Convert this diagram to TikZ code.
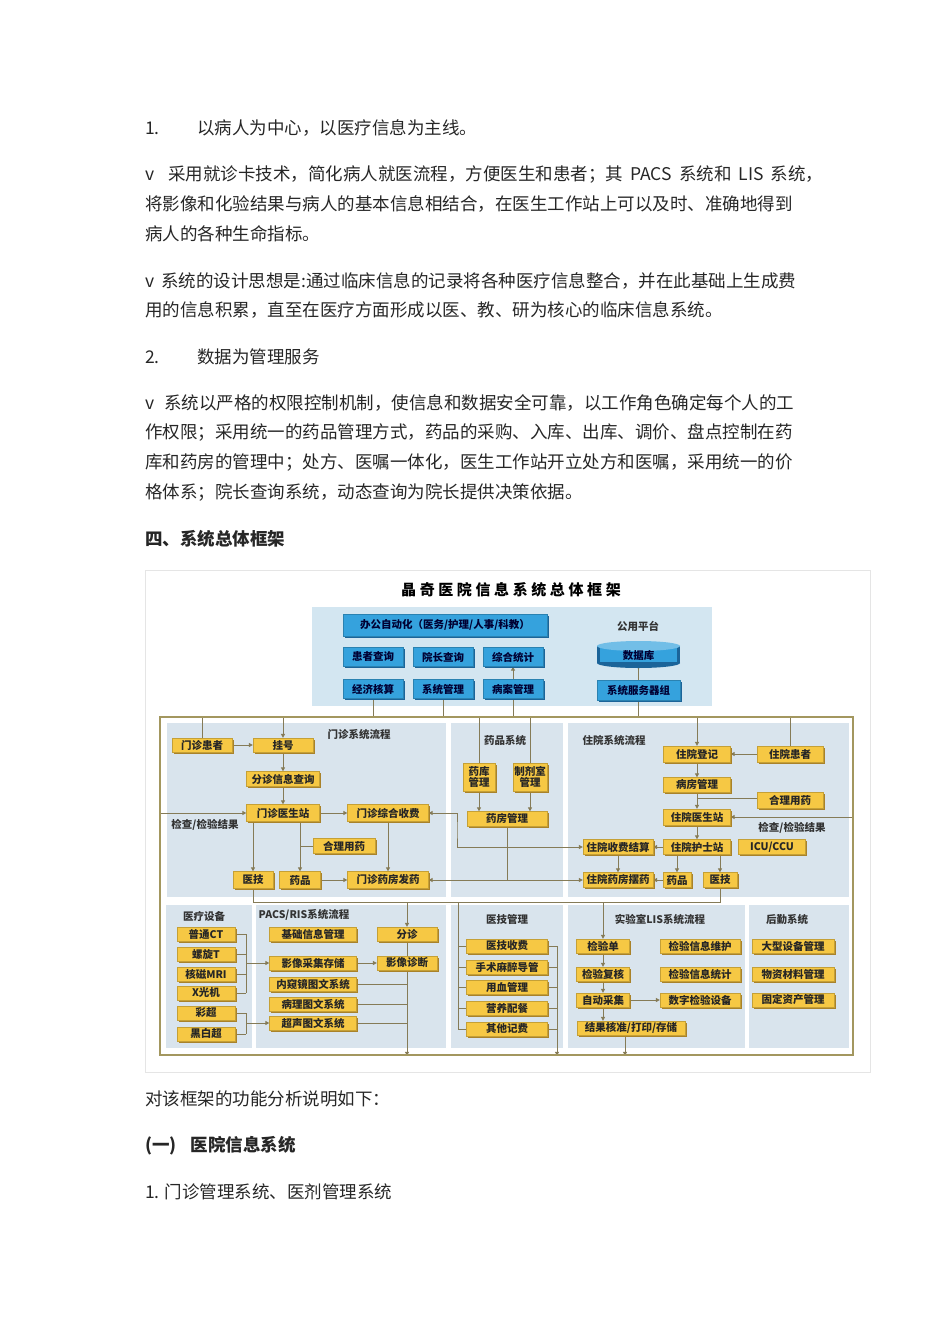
\documentclass[tikz,border=0pt]{standalone}
\usepackage{fontspec}
\setmainfont{Noto Sans CJK SC}
\newfontfamily\titlefont{Noto Sans CJK SC}[LetterSpace=24]
\usetikzlibrary{positioning,arrows.meta,shadows}
\XeTeXlinebreaklocale "zh"
\XeTeXlinebreakskip=0pt plus 1pt

\definecolor{panelbg}{HTML}{D9E4ED}
\definecolor{toppanel}{HTML}{D3E6F1}
\definecolor{framecol}{HTML}{A3975F}
\definecolor{yfill}{HTML}{F6C844}
\definecolor{yshade}{HTML}{A9822A}
\definecolor{bfill}{HTML}{35A2DD}
\definecolor{bshade}{HTML}{1B6499}
\definecolor{linecol}{HTML}{857B57}
\definecolor{txt}{HTML}{262626}

\newcommand\dfont{\fontsize{10.5}{11}\selectfont\bfseries}

\pgfdeclarelayer{panels}
\pgfdeclarelayer{lines}
\pgfsetlayers{panels,lines,main}

\tikzset{
  >={Triangle[length=4pt,width=4pt]},
  bodytext/.style={anchor=west, inner sep=0pt, text=txt, font=\fontsize{17.5}{21}\selectfont},
  headtext/.style={bodytext, font=\fontsize{17.5}{21}\selectfont\bfseries},
  ybox/.style={fill=yfill, draw=yfill!80!black, line width=0.3pt, inner sep=0pt, align=center,
    minimum height=15pt, font=\dfont, text=black!85,
    drop shadow={shadow xshift=1.6pt, shadow yshift=-1.6pt, fill=yshade, opacity=1}},
  bbox/.style={fill=bfill, draw=bfill!80!black, line width=0.3pt, inner sep=0pt,
    minimum height=19pt, font=\dfont, text=black!80!blue,
    drop shadow={shadow xshift=1.8pt, shadow yshift=-1.8pt, fill=bshade, opacity=1}},
  paneltitle/.style={inner sep=0pt, font=\dfont, text=black!80},
  conn/.style={draw=linecol, line width=1pt},
}

\begin{document}
\begin{tikzpicture}[x=1pt,y=-1pt]
\useasboundingbox (0,0) rectangle (950,1344);

% text above the figure
\node[bodytext] (n1) at (145,128) {1.};
\node[bodytext] (p1) at (197,128) {以病人为中心，以医疗信息为主线。};
\node[bodytext] (p2) at (145,175) {\makebox[678pt][s]{v\hspace{14pt}采用就诊卡技术，简化病人就医流程，方便医生和患者；其 PACS 系统和 LIS 系统，}};
\node[bodytext] (p3) at (145,204) {\makebox[650pt][s]{将影像和化验结果与病人的基本信息相结合，在医生工作站上可以及时、准确地得到}};
\node[bodytext] (p4) at (145,234) {病人的各种生命指标。};
\node[bodytext] (p5) at (145,281) {\makebox[651pt][s]{v 系统的设计思想是:通过临床信息的记录将各种医疗信息整合，并在此基础上生成费}};
\node[bodytext] (p6) at (145,310) {用的信息积累，直至在医疗方面形成以医、教、研为核心的临床信息系统。};
\node[bodytext] (n2) at (145,357) {2.};
\node[bodytext] (p7) at (197,357) {数据为管理服务};
\node[bodytext] (p8) at (145,403) {\makebox[650pt][s]{v\hspace{10pt}系统以严格的权限控制机制，使信息和数据安全可靠，以工作角色确定每个人的工}};
\node[bodytext] (p9) at (145,432) {\makebox[650pt][s]{作权限；采用统一的药品管理方式，药品的采购、入库、出库、调价、盘点控制在药}};
\node[bodytext] (p10) at (145,462) {\makebox[650pt][s]{库和药房的管理中；处方、医嘱一体化，医生工作站开立处方和医嘱，采用统一的价}};
\node[bodytext] (p11) at (145,492) {格体系；院长查询系统，动态查询为院长提供决策依据。};
\node[headtext] (h4) at (145,539) {四、系统总体框架};

% panels
\begin{pgfonlayer}{panels}
  \draw[gray!20, line width=0.6pt] (145,570) rectangle (870,1072);
  \fill[toppanel] (312,607) rectangle (712,706);
  \fill[panelbg] (167,723) rectangle (446,897);
  \fill[panelbg] (451,723) rectangle (563,897);
  \fill[panelbg] (568,723) rectangle (849,897);
  \fill[panelbg] (166,905) rectangle (252,1048);
  \fill[panelbg] (256,905) rectangle (446,1048);
  \fill[panelbg] (451,905) rectangle (563,1048);
  \fill[panelbg] (568,905) rectangle (745,1048);
  \fill[panelbg] (749,905) rectangle (849,1048);
\end{pgfonlayer}

\node[inner sep=0pt, font=\titlefont\fontsize{15}{17}\selectfont\bfseries] (title) at (511,590) {晶奇医院信息系统总体框架};

% top block
\node[bbox, minimum width=204pt, minimum height=22pt] (oa) at (445,625) {办公自动化（医务/护理/人事/科教）};
\node[bbox, minimum width=60pt] (hzcx) at (373,657) {患者查询};
\node[bbox, minimum width=60pt] (yzcx) at (443,657) {院长查询};
\node[bbox, minimum width=60pt] (zhtj) at (513,657) {综合统计};
\node[bbox, minimum width=60pt] (jjhs) at (373,689) {经济核算};
\node[bbox, minimum width=60pt] (xtgl) at (443,689) {系统管理};
\node[bbox, minimum width=60pt] (bagl) at (513,689) {病案管理};
\node[paneltitle] (gypt) at (638,626) {公用平台};
\fill[bshade] (597,646) rectangle (680,663);
\fill[bshade] (638.5,663) ellipse (41.5pt and 5pt);
\fill[bfill] (600,646) rectangle (677,662);
\fill[bfill!70!white] (638.5,646) ellipse (41.5pt and 5pt);
\node[inner sep=0pt, minimum width=83pt, minimum height=26pt, font=\dfont, text=black!80!blue] (sjk) at (638.5,655) {数据库};
\node[bbox, minimum width=83pt, minimum height=20pt] (fwq) at (638.5,690) {系统服务器组};

% frame
\node[draw=framecol, line width=1.6pt, minimum width=693pt, minimum height=338pt, inner sep=0pt] (frame) at (506.5,886) {};

% outpatient
\node[paneltitle] (tmz) at (359,734) {门诊系统流程};
\node[ybox, minimum width=60pt, minimum height=14pt] (mzhz) at (202,745) {门诊患者};
\node[ybox, minimum width=60pt, minimum height=14pt] (gh) at (283,745) {挂号};
\node[ybox, minimum width=73pt] (fzcx) at (283,779) {分诊信息查询};
\node[ybox, minimum width=73pt, minimum height=17pt] (mzys) at (283,813) {门诊医生站};
\node[ybox, minimum width=81pt, minimum height=17pt] (mzsf) at (388,813) {门诊综合收费};
\node[paneltitle] (tjc1) at (205,825) {检查/检验结果};
\node[ybox, minimum width=62pt] (hlyy) at (344,846) {合理用药};
\node[ybox, minimum width=40pt, minimum height=17pt] (mzyj) at (253,880) {医技};
\node[ybox, minimum width=41pt, minimum height=17pt] (mzyp) at (300,880) {药品};
\node[ybox, minimum width=81pt, minimum height=17pt] (mzfy) at (388,880) {门诊药房发药};

% drugs
\node[paneltitle] (typ) at (505,740) {药品系统};
\node[ybox, minimum width=32pt, minimum height=28pt] (ykgl) at (479,777) {药库\\管理};
\node[ybox, minimum width=34pt, minimum height=28pt] (zjsgl) at (530,777) {制剂室\\管理};
\node[ybox, minimum width=80pt] (yfgl) at (507,819) {药房管理};

% inpatient
\node[paneltitle] (tzy) at (614,740) {住院系统流程};
\node[ybox, minimum width=67pt, minimum height=16pt] (zydj) at (697,754) {住院登记};
\node[ybox, minimum width=66pt, minimum height=16pt] (zyhz) at (790,754) {住院患者};
\node[ybox, minimum width=67pt] (bfgl) at (697,785) {病房管理};
\node[ybox, minimum width=66pt, minimum height=16pt] (zyhl) at (790,800) {合理用药};
\node[ybox, minimum width=67pt, minimum height=16pt] (zyys) at (697,817) {住院医生站};
\node[paneltitle] (tjc2) at (792,828) {检查/检验结果};
\node[ybox, minimum width=67pt] (zyhs) at (697,847) {住院护士站};
\node[ybox, minimum width=67pt] (icu) at (772,847) {ICU/CCU};
\node[ybox, minimum width=70pt] (zysf) at (618,847) {住院收费结算};
\node[ybox, minimum width=70pt] (zyby) at (618,880) {住院药房摆药};
\node[ybox, minimum width=28pt] (zyyp) at (677,880) {药品};
\node[ybox, minimum width=34pt] (zyyj) at (720,880) {医技};

% equipment
\node[paneltitle] (tylsb) at (204,916) {医疗设备};
\node[ybox, minimum width=58pt, minimum height=14pt] (ptct) at (206,934) {普通CT};
\node[ybox, minimum width=58pt, minimum height=14pt] (lxt) at (206,954) {螺旋T};
\node[ybox, minimum width=58pt, minimum height=14pt] (hcgz) at (206,974) {核磁MRI};
\node[ybox, minimum width=58pt, minimum height=14pt] (xgj) at (206,993) {X光机};
\node[ybox, minimum width=58pt, minimum height=14pt] (cc) at (206,1013) {彩超};
\node[ybox, minimum width=58pt, minimum height=14pt] (hbc) at (206,1034) {黑白超};

% PACS/RIS
\node[paneltitle] (tpacs) at (304,915) {PACS/RIS系统流程};
\node[ybox, minimum width=87pt, minimum height=14pt] (jcxx) at (313,934) {基础信息管理};
\node[ybox, minimum width=87pt, minimum height=14pt] (yxcj) at (313,963) {影像采集存储};
\node[ybox, minimum width=87pt, minimum height=14pt] (nkj) at (313,984) {内窥镜图文系统};
\node[ybox, minimum width=87pt, minimum height=14pt] (blt) at (313,1004) {病理图文系统};
\node[ybox, minimum width=87pt, minimum height=14pt] (csw) at (313,1023) {超声图文系统};
\node[ybox, minimum width=60pt, minimum height=14pt] (fz) at (407,934) {分诊};
\node[ybox, minimum width=60pt, minimum height=14pt] (yxzd) at (407,963) {影像诊断};

% medical technology
\node[paneltitle] (tyjgl) at (507,919) {医技管理};
\node[ybox, minimum width=81pt, minimum height=14pt] (yjsf) at (507,946) {医技收费};
\node[ybox, minimum width=81pt, minimum height=14pt] (ssmz) at (507,967) {手术麻醉导管};
\node[ybox, minimum width=81pt, minimum height=14pt] (yxgl) at (507,987) {用血管理};
\node[ybox, minimum width=81pt, minimum height=14pt] (yypc) at (507,1008) {营养配餐};
\node[ybox, minimum width=81pt, minimum height=14pt] (qtjf) at (507,1029) {其他记费};

% LIS
\node[paneltitle] (tlis) at (660,919) {实验室LIS系统流程};
\node[ybox, minimum width=53pt, minimum height=14pt] (jyd) at (603,946) {检验单};
\node[ybox, minimum width=53pt, minimum height=14pt] (jyfh) at (603,974) {检验复核};
\node[ybox, minimum width=53pt, minimum height=14pt] (zdcj) at (603,1000) {自动采集};
\node[ybox, minimum width=108pt, minimum height=14pt] (jgzc) at (631,1028) {结果核准/打印/存储};
\node[ybox, minimum width=80pt, minimum height=14pt] (jywh) at (700,946) {检验信息维护};
\node[ybox, minimum width=80pt, minimum height=14pt] (jytj) at (700,974) {检验信息统计};
\node[ybox, minimum width=80pt, minimum height=14pt] (szsb) at (700,1000) {数字检验设备};

% logistics
\node[paneltitle] (thq) at (787,919) {后勤系统};
\node[ybox, minimum width=82pt, minimum height=14pt] (dxsb) at (793,946) {大型设备管理};
\node[ybox, minimum width=82pt, minimum height=14pt] (wzcl) at (793,974) {物资材料管理};
\node[ybox, minimum width=82pt, minimum height=14pt] (gdzc) at (793,1000) {固定资产管理};

% text below the figure
\node[bodytext] (p12) at (145,1099) {对该框架的功能分析说明如下：};
\node[headtext] (h1) at (145,1146) {(一)\hspace{14pt}医院信息系统};
\node[bodytext] (p13) at (145,1192) {1. 门诊管理系统、医剂管理系统};

% connectors
\coordinate (busL) at (253,902);
\coordinate (busR) at (720,902);
\coordinate (sfbus) at (457,830);
\coordinate (yjtop) at (458,902);
\coordinate (yjR) at (557,946);
\coordinate (brk) at (246,963);
\begin{pgfonlayer}{lines}
  % top block
  \foreach \n in {jjhs,xtgl,bagl,fwq}
    \draw[conn] (\n.south) -- (\n.south |- frame.north);
  \draw[conn, ->] (bagl) -- (zhtj);
  \draw[conn] (sjk) -- (fwq);
  % outpatient
  \draw[conn] (mzhz) -- (mzhz |- frame.north);
  \draw[conn, ->] (gh |- frame.north) -- (gh);
  \draw[conn, ->] (mzhz) -- (gh);
  \draw[conn, ->] (gh) -- (fzcx);
  \draw[conn, ->] (fzcx) -- (mzys);
  \draw[conn, ->] (frame.west |- mzys) -- (mzys);
  \draw[conn, ->] (mzys) -- (mzsf);
  \draw[conn, ->] (mzys.south -| mzyj) -- (mzyj);
  \draw[conn, ->] (mzys.south -| mzyp) -- (mzyp);
  \draw[conn] (hlyy.west) -- (hlyy.west -| mzyp);
  \draw[conn, ->] (mzsf) -- (mzfy);
  \draw[conn, ->] (mzyp) -- (mzfy);
  \draw[conn, <->] (mzsf.east) -| (sfbus) |- (zysf.west);
  \draw[conn, <->] (mzfy.east) -- (zyby.west);
  % drugs
  \foreach \n in {ykgl,zjsgl} {
    \draw[conn] (\n) -- (\n |- frame.north);
    \draw[conn, ->] (\n.south) -- (\n.south |- yfgl.north);
  }
  \draw[conn] (yfgl) -- (yfgl |- mzfy);
  % inpatient
  \draw[conn, ->] (zydj |- frame.north) -- (zydj);
  \draw[conn] (zyhz) -- (zyhz |- frame.north);
  \draw[conn, ->] (zyhz) -- (zydj);
  \draw[conn, ->] (zydj) -- (bfgl);
  \draw[conn, ->] (bfgl) -- (zyys);
  \draw[conn] ([yshift=2pt]zyhl.west) -- ([yshift=2pt]zyhl.west -| zyys);
  \draw[conn, ->] (frame.east |- zyys) -- (zyys);
  \draw[conn, ->] (zyys) -- (zyhs);
  \draw[conn, ->] (zyhs) -- (zysf);
  \draw[conn, ->] (zysf) -- (zyby);
  \draw[conn, ->] (zyhs.south -| zyyp) -- (zyyp);
  \draw[conn, ->] (zyhs.south -| zyyj) -- (zyyj);
  \draw[conn, ->] (zyyp) -- (zyby);
  % bus between the two rows
  \draw[conn] (mzyj) -- (busL) -- (busR) -- (zyyj);
  \draw[conn, ->] (fz |- busL) -- (fz);
  \draw[conn, ->] (jyd |- busL) -- (jyd);
  % equipment and PACS
  \foreach \n in {ptct,lxt,hcgz,xgj,cc,hbc}
    \draw[conn] (\n.east) -- (\n.east -| brk);
  \draw[conn] (ptct.east -| brk) -- (xgj.east -| brk);
  \draw[conn] (cc.east -| brk) -- (hbc.east -| brk);
  \draw[conn, ->] (brk |- yxcj) -- (yxcj);
  \draw[conn, ->] (brk |- csw) -- (csw);
  \draw[conn, ->] (yxcj) -- (yxzd);
  \draw[conn] (fz) -- (yxzd);
  \foreach \n in {nkj,blt,csw}
    \draw[conn] (\n.east) -- (\n.east -| yxzd);
  \draw[conn, ->] (yxzd) -- (yxzd |- frame.south);
  % medical technology
  \draw[conn] (yjtop) -- (yjtop |- qtjf);
  \foreach \n in {yjsf,ssmz,yxgl,yypc,qtjf} {
    \draw[conn] (\n.west) -- (\n.west -| yjtop);
    \draw[conn] (\n.east) -- (\n.east -| yjR);
  }
  \draw[conn, ->] (yjR) -- (yjR |- frame.south);
  % LIS
  \draw[conn, ->] (jyd) -- (jyfh);
  \draw[conn, ->] (jyfh) -- (zdcj);
  \draw[conn, ->] (zdcj) -- (zdcj |- jgzc.north);
  \draw[conn, ->] (zdcj) -- (szsb);
  \draw[conn, ->] ([xshift=-6pt]jgzc.south) -- ([xshift=-6pt]jgzc.south |- frame.south);
\end{pgfonlayer}
\end{tikzpicture}
\end{document}
